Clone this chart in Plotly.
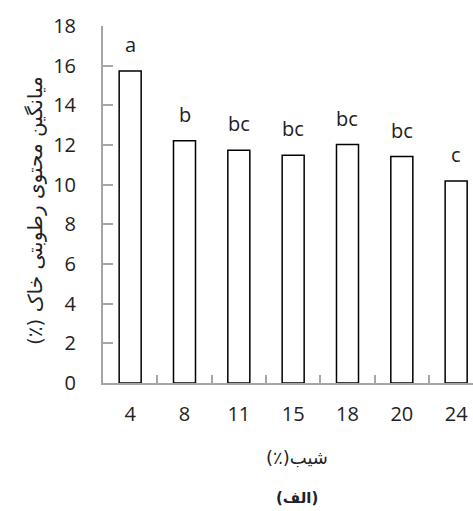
import plotly.graph_objects as go

categories = ["4", "8", "11", "15", "18", "20", "24"]
values = [15.73, 12.22, 11.74, 11.48, 12.02, 11.42, 10.18]
letters = ["a", "b", "bc", "bc", "bc", "bc", "c"]
y_ticks = [0, 2, 4, 6, 8, 10, 12, 14, 16, 18]
y_title = "\u200fمیانگین محتوی رطوبتی خاک (٪)\u200f"
x_title = "\u200fشیب(٪)\u200f"
panel_label = "\u200f(الف)\u200f"

W, H = 473, 511
L, R, T, B = 103, 0, 26, 128
axis_col = "#a6a6a6"
font_num = "Open Sans, Calibri, sans-serif"
font_fa = "DejaVu Sans, sans-serif"
pw = W - L - R
ph = H - T - B


def px_x(px):
    return (px - L) / pw


def px_y(py):
    return (H - B - py) / ph


fig = go.Figure()
fig.add_trace(go.Bar(
    x=list(range(len(categories))), y=values, width=0.405,
    marker=dict(color="white", line=dict(color="black", width=1.5)),
    showlegend=False, hoverinfo="skip",
))

for i, (v, t) in enumerate(zip(values, letters)):
    fig.add_annotation(x=i, y=v, text=t, showarrow=False, yanchor="bottom", yshift=11,
                       font=dict(family=font_num, size=20, color="#222"))

fig.update_layout(
    width=W, height=H, margin=dict(l=L, r=R, t=T, b=B),
    plot_bgcolor="white", paper_bgcolor="white",
)
fig.update_xaxes(
    range=[-0.5, 6.31], tickmode="array", tickvals=list(range(len(categories))),
    ticktext=categories, showline=True, linecolor=axis_col, linewidth=2,
    ticks="", showgrid=False, zeroline=False,
    tickfont=dict(family=font_num, size=20, color="#222"),
    ticklabelstandoff=12,
    minor=dict(tickmode="array", tickvals=[i + 0.5 for i in range(len(categories))],
               ticks="inside", ticklen=8, tickcolor=axis_col, tickwidth=1.5),
)
fig.update_yaxes(
    range=[0, 18], tickmode="array", tickvals=y_ticks, showline=True,
    linecolor=axis_col, linewidth=2, ticks="inside", ticklen=10, tickcolor=axis_col,
    tickwidth=1.5, showgrid=False, zeroline=False,
    tickfont=dict(family=font_num, size=20, color="#222"),
    ticklabelstandoff=21,
)

fig.add_annotation(text=y_title, xref="paper", yref="paper",
                   x=px_x(35), y=px_y(211), textangle=-90,
                   xanchor="center", yanchor="middle",
                   showarrow=False, font=dict(family=font_fa, size=20, color="#222"))
fig.add_annotation(text=x_title, xref="paper", yref="paper",
                   x=px_x(297), y=px_y(458), xanchor="center", yanchor="middle",
                   showarrow=False, font=dict(family=font_fa, size=18, color="#222"))
fig.add_annotation(text="<b>" + panel_label + "</b>", xref="paper", yref="paper",
                   x=px_x(297), y=px_y(498), xanchor="center", yanchor="middle",
                   showarrow=False, font=dict(family=font_fa, size=15, color="#222"))

fig.write_html("out.html", config={"displayModeBar": False},
               post_script="document.body.style.margin='0';document.body.style.overflow='hidden';")
